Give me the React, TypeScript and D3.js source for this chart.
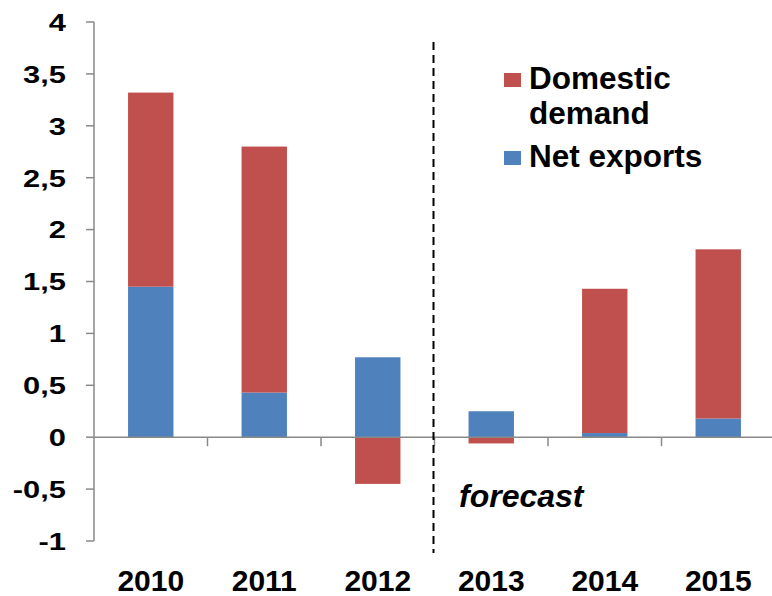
import React from "react";
import * as d3 from "d3";

const years = ["2010", "2011", "2012", "2013", "2014", "2015"];
const netExports = [1.45, 0.43, 0.77, 0.25, 0.04, 0.18];
const domesticDemand = [1.87, 2.37, -0.45, -0.06, 1.39, 1.63];
const yTicks = [-1, -0.5, 0, 0.5, 1, 1.5, 2, 2.5, 3, 3.5, 4];
const seriesNames = ["Net exports", "Domestic demand"];
const forecastLabel = "forecast";

const W = 772;
const H = 596;
const RED = "#C0504D";
const BLUE = "#4F81BD";
const AXIS = "#898989";
const FONT = "'Liberation Sans', Arial, sans-serif";

export default function App() {
  const x = d3.scaleBand<string>().domain(years).range([94, 775]).paddingInner(0.6).paddingOuter(0.3);
  const y = d3.scaleLinear().domain([-1, 4]).range([541, 22]);

  const rows = years.map((yr, i) => ({ year: yr, net: netExports[i], dom: domesticDemand[i] }));
  const stack = d3.stack<any>().keys(["net", "dom"]).offset(d3.stackOffsetDiverging);
  const stacked = stack(rows);
  const colors = [BLUE, RED];

  const fmt = (v: number) => String(v).replace(".", ",");
  const step = x.step();
  const x0 = 94;
  const boundaries = d3.range(1, years.length + 1).map((k) => x0 + k * step);
  const forecastX = x0 + 3 * step - 1;

  return (
    <svg width={W} height={H} style={{ position: "absolute", left: 0, top: 0, background: "#fff" }} fontFamily={FONT}>
      <rect x={0} y={0} width={W} height={H} fill="#fff" />
      {/* bars */}
      {stacked.map((s, si) =>
        s.map((d, i) => {
          const top = y(Math.max(d[0], d[1]));
          const bot = y(Math.min(d[0], d[1]));
          return (
            <rect
              key={si + "-" + i}
              x={x(years[i])}
              y={top}
              width={x.bandwidth()}
              height={Math.max(0, bot - top)}
              fill={colors[si]}
            />
          );
        })
      )}
      {/* y axis */}
      <line x1={x0} x2={x0} y1={y(4)} y2={y(-1)} stroke={AXIS} strokeWidth={1.5} />
      {yTicks.map((t) => (
        <g key={t}>
          <line x1={86} x2={x0} y1={y(t)} y2={y(t)} stroke={AXIS} strokeWidth={1.5} />
          <text
            transform={`translate(66,${y(t)}) scale(1.26,1)`}
            dy="0.36em"
            textAnchor="end"
            fontSize={24.5}
            fontWeight="bold"
            fill="#000"
          >
            {fmt(t)}
          </text>
        </g>
      ))}
      {/* x axis */}
      <line x1={x0} x2={W} y1={y(0)} y2={y(0)} stroke={AXIS} strokeWidth={1.5} />
      {boundaries.map((b, k) => (
        <line key={k} x1={b} x2={b} y1={y(0)} y2={y(0) + 9} stroke={AXIS} strokeWidth={1.5} />
      ))}
      {years.map((yr) => (
        <text key={yr} x={(x(yr) as number) + x.bandwidth() / 2} y={591} textAnchor="middle" fontSize={30} fontWeight="bold" fill="#000">
          {yr}
        </text>
      ))}
      {/* forecast divider */}
      <line x1={forecastX} x2={forecastX} y1={42} y2={553} stroke="#000" strokeWidth={2} strokeDasharray="8,5" />
      <text x={459} y={507} fontSize={32} fontWeight="bold" fontStyle="italic" fill="#000">
        {forecastLabel}
      </text>
      {/* legend */}
      <rect x={504} y={73} width={17} height={14} fill={RED} />
      <text x={529} y={89} fontSize={31.5} fontWeight="bold" fill="#000">Domestic</text>
      <text x={529} y={124} fontSize={31.5} fontWeight="bold" fill="#000">demand</text>
      <rect x={504} y={151} width={17} height={14} fill={BLUE} />
      <text x={529} y={167} fontSize={31.5} fontWeight="bold" fill="#000">{seriesNames[0]}</text>
    </svg>
  );
}
